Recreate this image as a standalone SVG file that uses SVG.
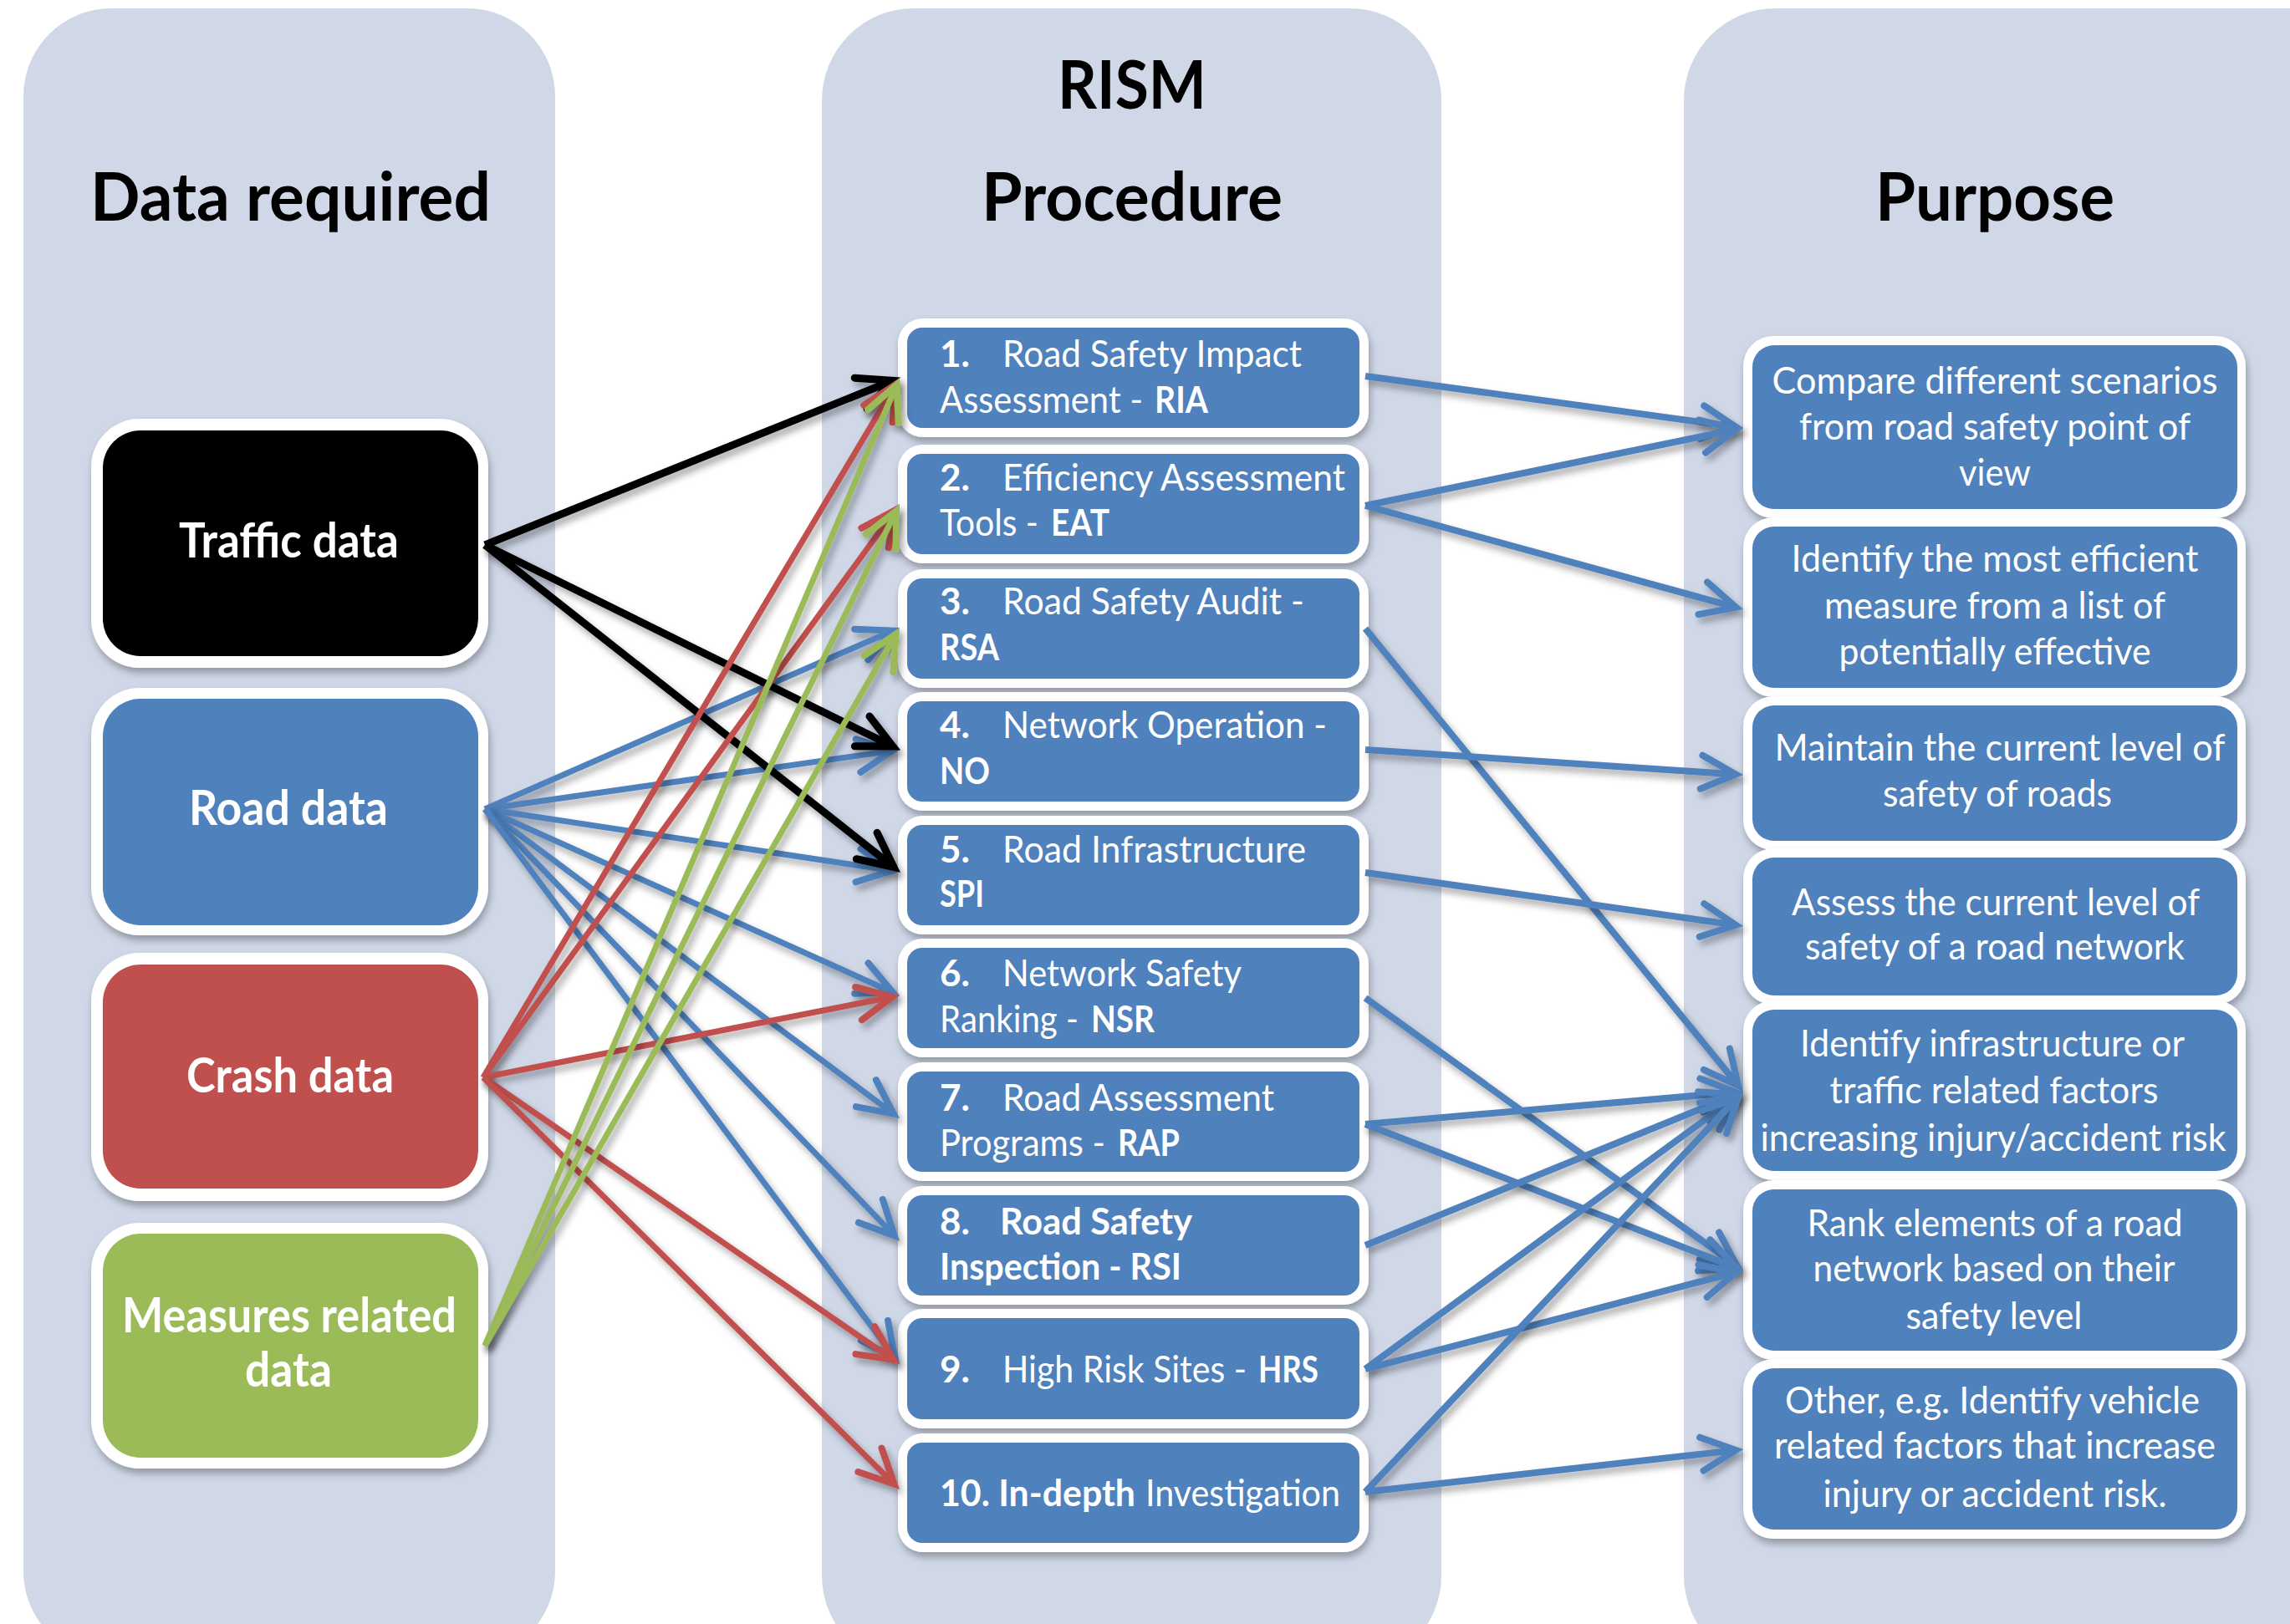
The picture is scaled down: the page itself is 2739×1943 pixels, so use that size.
<svg xmlns="http://www.w3.org/2000/svg" width="2739" height="1943" viewBox="0 0 2739 1943">
<defs>
<style>
.col{fill:#D0D8E8}
.hdr{font-family:Lato,"Open Sans",sans-serif;font-weight:700;font-size:80px;fill:#000}
.lt{font-family:Lato,"Open Sans",sans-serif;font-weight:700;font-size:57px;fill:#fff}
.mt{font-family:Lato,"Open Sans",sans-serif;font-size:44px;fill:#fff}
.rt{font-family:Lato,"Open Sans",sans-serif;font-size:44px;fill:#fff;text-anchor:middle}
.b{font-weight:700}
.frame{fill:#fff;filter:url(#bs)}
.fblack{fill:#000}
.fblue{fill:#4F81BD}
.fred{fill:#C0504D}
.fgreen{fill:#9BBB59}
.c{fill:none;stroke-width:7;filter:url(#ls)}
.k{stroke:#000;stroke-width:9;marker-end:url(#ak)}
.u{stroke:#4F81BD;marker-end:url(#au)}
.r{stroke:#C0504D;marker-end:url(#ar)}
.g{stroke:#9BBB59;marker-end:url(#ag)}
.ru{stroke:#4F81BD;stroke-width:8;marker-end:url(#au)}
</style>
<filter id="ls" filterUnits="userSpaceOnUse" x="0" y="0" width="2739" height="1943">
<feDropShadow dx="4" dy="6" stdDeviation="4" flood-color="#000" flood-opacity="0.35"/>
</filter>
<filter id="bs" filterUnits="userSpaceOnUse" x="0" y="0" width="2739" height="1943">
<feDropShadow dx="2" dy="6" stdDeviation="5" flood-color="#000" flood-opacity="0.3"/>
</filter>
<marker id="ak" markerUnits="userSpaceOnUse" markerWidth="80" markerHeight="60" viewBox="-60 -30 80 60" refX="0" refY="0" orient="auto" overflow="visible"><path d="M-42,-20 L-1,0 L-42,20" fill="none" stroke="#000" stroke-width="9" stroke-linecap="round"/></marker>
<marker id="au" markerUnits="userSpaceOnUse" markerWidth="80" markerHeight="60" viewBox="-60 -30 80 60" refX="0" refY="0" orient="auto" overflow="visible"><path d="M-42,-20 L-1,0 L-42,20" fill="none" stroke="#4F81BD" stroke-width="8" stroke-linecap="round"/></marker>
<marker id="ar" markerUnits="userSpaceOnUse" markerWidth="80" markerHeight="60" viewBox="-60 -30 80 60" refX="0" refY="0" orient="auto" overflow="visible"><path d="M-42,-20 L-1,0 L-42,20" fill="none" stroke="#C0504D" stroke-width="8" stroke-linecap="round"/></marker>
<marker id="ag" markerUnits="userSpaceOnUse" markerWidth="80" markerHeight="60" viewBox="-60 -30 80 60" refX="0" refY="0" orient="auto" overflow="visible"><path d="M-42,-20 L-1,0 L-42,20" fill="none" stroke="#9BBB59" stroke-width="8" stroke-linecap="round"/></marker>
</defs>
<rect width="2739" height="1943" fill="#fff"/>
<g id="columns">
<rect class="col" x="28" y="10" width="636" height="1975" rx="105"/>
<rect class="col" x="983" y="10" width="741" height="1985" rx="110"/>
<rect class="col" x="2014" y="10" width="840" height="1985" rx="110"/>
</g>
<g id="headers">
<text class="hdr" x="108" y="264" textLength="479" lengthAdjust="spacingAndGlyphs">Data required</text>
<text class="hdr" x="1265" y="130" textLength="178" lengthAdjust="spacingAndGlyphs">RISM</text>
<text class="hdr" x="1174" y="264" textLength="360" lengthAdjust="spacingAndGlyphs">Procedure</text>
<text class="hdr" x="2243" y="264" textLength="286" lengthAdjust="spacingAndGlyphs">Purpose</text>
</g>
<g id="node-traffic">
<rect class="frame" x="109" y="501" width="475" height="298" rx="58"/>
<rect class="fblack" x="123" y="515" width="449" height="270" rx="45"/>
<text class="lt" x="214" y="667" textLength="263" lengthAdjust="spacingAndGlyphs">Traffic data</text>
</g>
<g id="node-road">
<rect class="frame" x="109" y="823" width="475" height="296" rx="58"/>
<rect class="fblue" x="123" y="836" width="449" height="271" rx="45"/>
<text class="lt" x="226" y="987" textLength="238" lengthAdjust="spacingAndGlyphs">Road data</text>
</g>
<g id="node-crash">
<rect class="frame" x="109" y="1140" width="475" height="297" rx="58"/>
<rect class="fred" x="123" y="1154" width="449" height="268" rx="45"/>
<text class="lt" x="223" y="1307" textLength="248" lengthAdjust="spacingAndGlyphs">Crash data</text>
</g>
<g id="node-measures">
<rect class="frame" x="109" y="1463" width="475" height="294" rx="58"/>
<rect class="fgreen" x="123" y="1476" width="449" height="268" rx="45"/>
<text class="lt" x="146" y="1594" textLength="400" lengthAdjust="spacingAndGlyphs">Measures related</text>
<text class="lt" x="293" y="1659" textLength="104" lengthAdjust="spacingAndGlyphs">data</text>
</g>
<g id="node-p1">
<rect class="frame" x="1074" y="381" width="563" height="142" rx="30"/>
<rect class="fblue" x="1085" y="392" width="541" height="120" rx="18"/>
<text class="mt b" x="1124" y="439">1.</text>
<text class="mt" x="1199" y="439" textLength="358" lengthAdjust="spacingAndGlyphs">Road Safety Impact</text>
<text class="mt" x="1124" y="494" textLength="243" lengthAdjust="spacingAndGlyphs">Assessment -</text>
<text class="mt b" x="1381" y="494" textLength="64" lengthAdjust="spacingAndGlyphs">RIA</text>
</g>
<g id="node-p2">
<rect class="frame" x="1074" y="532" width="563" height="142" rx="30"/>
<rect class="fblue" x="1085" y="543" width="541" height="120" rx="18"/>
<text class="mt b" x="1124" y="587">2.</text>
<text class="mt" x="1199" y="587" textLength="410" lengthAdjust="spacingAndGlyphs">Efficiency Assessment</text>
<text class="mt" x="1124" y="641" textLength="118" lengthAdjust="spacingAndGlyphs">Tools -</text>
<text class="mt b" x="1257" y="641" textLength="70" lengthAdjust="spacingAndGlyphs">EAT</text>
</g>
<g id="node-p3">
<rect class="frame" x="1074" y="681" width="563" height="142" rx="30"/>
<rect class="fblue" x="1085" y="692" width="541" height="120" rx="18"/>
<text class="mt b" x="1124" y="735">3.</text>
<text class="mt" x="1199" y="735" textLength="361" lengthAdjust="spacingAndGlyphs">Road Safety Audit -</text>
<text class="mt b" x="1124" y="790" textLength="71" lengthAdjust="spacingAndGlyphs">RSA</text>
</g>
<g id="node-p4">
<rect class="frame" x="1074" y="828" width="563" height="142" rx="30"/>
<rect class="fblue" x="1085" y="839" width="541" height="120" rx="18"/>
<text class="mt b" x="1124" y="883">4.</text>
<text class="mt" x="1199" y="883" textLength="388" lengthAdjust="spacingAndGlyphs">Network Operation -</text>
<text class="mt b" x="1124" y="938" textLength="60" lengthAdjust="spacingAndGlyphs">NO</text>
</g>
<g id="node-p5">
<rect class="frame" x="1074" y="976" width="563" height="142" rx="30"/>
<rect class="fblue" x="1085" y="987" width="541" height="120" rx="18"/>
<text class="mt b" x="1124" y="1032">5.</text>
<text class="mt" x="1199" y="1032" textLength="363" lengthAdjust="spacingAndGlyphs">Road Infrastructure</text>
<text class="mt b" x="1124" y="1085" textLength="53" lengthAdjust="spacingAndGlyphs">SPI</text>
</g>
<g id="node-p6">
<rect class="frame" x="1074" y="1123" width="563" height="142" rx="30"/>
<rect class="fblue" x="1085" y="1134" width="541" height="120" rx="18"/>
<text class="mt b" x="1124" y="1180">6.</text>
<text class="mt" x="1199" y="1180" textLength="286" lengthAdjust="spacingAndGlyphs">Network Safety</text>
<text class="mt" x="1124" y="1235" textLength="166" lengthAdjust="spacingAndGlyphs">Ranking -</text>
<text class="mt b" x="1305" y="1235" textLength="76" lengthAdjust="spacingAndGlyphs">NSR</text>
</g>
<g id="node-p7">
<rect class="frame" x="1074" y="1271" width="563" height="142" rx="30"/>
<rect class="fblue" x="1085" y="1282" width="541" height="120" rx="18"/>
<text class="mt b" x="1124" y="1329">7.</text>
<text class="mt" x="1199" y="1329" textLength="325" lengthAdjust="spacingAndGlyphs">Road Assessment</text>
<text class="mt" x="1124" y="1383" textLength="198" lengthAdjust="spacingAndGlyphs">Programs -</text>
<text class="mt b" x="1337" y="1383" textLength="74" lengthAdjust="spacingAndGlyphs">RAP</text>
</g>
<g id="node-p8">
<rect class="frame" x="1074" y="1419" width="563" height="142" rx="30"/>
<rect class="fblue" x="1085" y="1430" width="541" height="120" rx="18"/>
<text class="mt b" x="1124" y="1477">8.</text>
<text class="mt b" x="1196" y="1477" textLength="230" lengthAdjust="spacingAndGlyphs">Road Safety</text>
<text class="mt b" x="1124" y="1531" textLength="289" lengthAdjust="spacingAndGlyphs">Inspection - RSI</text>
</g>
<g id="node-p9">
<rect class="frame" x="1074" y="1566" width="563" height="143" rx="30"/>
<rect class="fblue" x="1085" y="1577" width="541" height="121" rx="18"/>
<text class="mt b" x="1124" y="1654">9.</text>
<text class="mt" x="1199" y="1654" textLength="292" lengthAdjust="spacingAndGlyphs">High Risk Sites -</text>
<text class="mt b" x="1505" y="1654" textLength="72" lengthAdjust="spacingAndGlyphs">HRS</text>
</g>
<g id="node-p10">
<rect class="frame" x="1074" y="1715" width="563" height="142" rx="30"/>
<rect class="fblue" x="1085" y="1726" width="541" height="120" rx="18"/>
<text class="mt b" x="1124" y="1802" textLength="234" lengthAdjust="spacingAndGlyphs">10. In-depth</text>
<text class="mt" x="1370" y="1802" textLength="233" lengthAdjust="spacingAndGlyphs">Investigation</text>
</g>
<g id="node-a">
<rect class="frame" x="2085" y="402" width="601" height="218" rx="36"/>
<rect class="fblue" x="2096" y="413" width="580" height="196" rx="26"/>
<text class="rt" x="2386" y="471" textLength="533" lengthAdjust="spacingAndGlyphs">Compare different scenarios</text>
<text class="rt" x="2386" y="526" textLength="468" lengthAdjust="spacingAndGlyphs">from road safety point of</text>
<text class="rt" x="2386" y="581" textLength="86" lengthAdjust="spacingAndGlyphs">view</text>
</g>
<g id="node-b">
<rect class="frame" x="2085" y="619" width="601" height="215" rx="36"/>
<rect class="fblue" x="2096" y="630" width="580" height="193" rx="26"/>
<text class="rt" x="2386" y="684" textLength="487" lengthAdjust="spacingAndGlyphs">Identify the most efficient</text>
<text class="rt" x="2386" y="740" textLength="408" lengthAdjust="spacingAndGlyphs">measure from a list of</text>
<text class="rt" x="2386" y="795" textLength="373" lengthAdjust="spacingAndGlyphs">potentially effective</text>
</g>
<g id="node-c">
<rect class="frame" x="2085" y="833" width="601" height="184" rx="36"/>
<rect class="fblue" x="2096" y="844" width="580" height="162" rx="26"/>
<text class="rt" x="2392" y="910" textLength="539" lengthAdjust="spacingAndGlyphs">Maintain the current level of</text>
<text class="rt" x="2389" y="965" textLength="274" lengthAdjust="spacingAndGlyphs">safety of roads</text>
</g>
<g id="node-d">
<rect class="frame" x="2085" y="1015" width="601" height="187" rx="36"/>
<rect class="fblue" x="2096" y="1026" width="580" height="165" rx="26"/>
<text class="rt" x="2387" y="1095" textLength="488" lengthAdjust="spacingAndGlyphs">Assess the current level of</text>
<text class="rt" x="2386" y="1148" textLength="454" lengthAdjust="spacingAndGlyphs">safety of a road network</text>
</g>
<g id="node-e">
<rect class="frame" x="2085" y="1197" width="601" height="215" rx="36"/>
<rect class="fblue" x="2096" y="1208" width="580" height="193" rx="26"/>
<text class="rt" x="2383" y="1264" textLength="460" lengthAdjust="spacingAndGlyphs">Identify infrastructure or</text>
<text class="rt" x="2385" y="1320" textLength="393" lengthAdjust="spacingAndGlyphs">traffic related factors</text>
<text class="rt" x="2384" y="1377" textLength="557" lengthAdjust="spacingAndGlyphs">increasing injury/accident risk</text>
</g>
<g id="node-f">
<rect class="frame" x="2085" y="1412" width="601" height="215" rx="36"/>
<rect class="fblue" x="2096" y="1423" width="580" height="193" rx="26"/>
<text class="rt" x="2386" y="1479" textLength="449" lengthAdjust="spacingAndGlyphs">Rank elements of a road</text>
<text class="rt" x="2385" y="1533" textLength="433" lengthAdjust="spacingAndGlyphs">network based on their</text>
<text class="rt" x="2385" y="1590" textLength="211" lengthAdjust="spacingAndGlyphs">safety level</text>
</g>
<g id="node-g">
<rect class="frame" x="2085" y="1626" width="601" height="215" rx="36"/>
<rect class="fblue" x="2096" y="1637" width="580" height="193" rx="26"/>
<text class="rt" x="2383" y="1691" textLength="496" lengthAdjust="spacingAndGlyphs">Other, e.g. Identify vehicle</text>
<text class="rt" x="2386" y="1745" textLength="528" lengthAdjust="spacingAndGlyphs">related factors that increase</text>
<text class="rt" x="2386" y="1803" textLength="411" lengthAdjust="spacingAndGlyphs">injury or accident risk.</text>
</g>
<g id="connectors">
<line class="c u" x1="580" y1="968" x2="1068.7" y2="754.2"/>
<line class="c u" x1="580" y1="968" x2="1068.1" y2="898.1"/>
<line class="c u" x1="580" y1="968" x2="1068.1" y2="1041.8"/>
<line class="c u" x1="580" y1="968" x2="1068.7" y2="1187.7"/>
<line class="c u" x1="580" y1="968" x2="1069.6" y2="1333.2"/>
<line class="c u" x1="580" y1="968" x2="1070.5" y2="1479.2"/>
<line class="c u" x1="580" y1="968" x2="1071.2" y2="1625.6"/>
<line class="c k" x1="580" y1="652" x2="1068.6" y2="455.0"/>
<line class="c k" x1="580" y1="652" x2="1068.8" y2="893.5"/>
<line class="c k" x1="580" y1="652" x2="1069.7" y2="1038.0"/>
<line class="c r" x1="578" y1="1289" x2="1071.9" y2="458.9"/>
<line class="c r" x1="578" y1="1289" x2="1071.3" y2="609.5"/>
<line class="c r" x1="578" y1="1289" x2="1068.2" y2="1192.5"/>
<line class="c r" x1="578" y1="1289" x2="1069.4" y2="1627.5"/>
<line class="c r" x1="578" y1="1289" x2="1070.3" y2="1776.4"/>
<line class="c g" x1="580" y1="1610" x2="1072.9" y2="459.4"/>
<line class="c g" x1="580" y1="1610" x2="1072.5" y2="610.2"/>
<line class="c g" x1="580" y1="1610" x2="1072.0" y2="757.9"/>
<line class="c ru" x1="1633" y1="450" x2="2077.1" y2="510.9"/>
<line class="c ru" x1="1633" y1="605" x2="2077.2" y2="513.6"/>
<line class="c ru" x1="1633" y1="605" x2="2077.3" y2="726.9"/>
<line class="c ru" x1="1633" y1="752" x2="2079.9" y2="1299.8"/>
<line class="c ru" x1="1633" y1="897" x2="2077.0" y2="926.5"/>
<line class="c ru" x1="1633" y1="1044" x2="2077.1" y2="1106.9"/>
<line class="c ru" x1="1633" y1="1194" x2="2078.5" y2="1515.3"/>
<line class="c ru" x1="1633" y1="1345" x2="2077.0" y2="1306.7"/>
<line class="c ru" x1="1633" y1="1345" x2="2077.5" y2="1517.1"/>
<line class="c ru" x1="1633" y1="1490" x2="2077.6" y2="1309.0"/>
<line class="c ru" x1="1633" y1="1638" x2="2078.6" y2="1310.7"/>
<line class="c ru" x1="1633" y1="1638" x2="2077.3" y2="1522.0"/>
<line class="c ru" x1="1633" y1="1785" x2="2079.5" y2="1311.8"/>
<line class="c ru" x1="1633" y1="1785" x2="2077.1" y2="1734.9"/>
</g>
</svg>
